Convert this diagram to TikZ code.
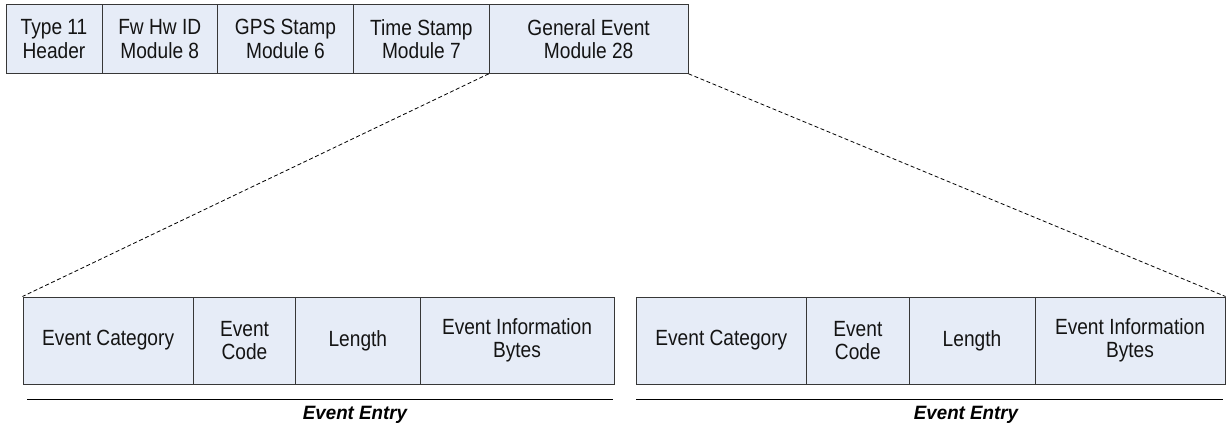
\documentclass[tikz,border=0pt]{standalone}
\usepackage{fontspec}
\setmainfont[FakeStretch=0.87]{Liberation Sans}
\newfontfamily\entryfont[FakeStretch=0.97]{Liberation Sans}
\definecolor{cellfill}{RGB}{230,236,247}
\definecolor{cellline}{RGB}{55,55,55}
\definecolor{txt}{RGB}{20,20,20}
\tikzset{
  cell/.style={draw=cellline, fill=cellfill, line width=1pt, inner sep=0pt,
    align=center, text=txt, font=\fontsize{22}{23.5}\selectfont,
    minimum height=#1},
  topcell/.style={cell=68.6pt},
  botcell/.style={cell=87pt},
  zoomline/.style={draw=black, line width=0.8pt, dash pattern=on 4pt off 2.5pt},
  ruleline/.style={draw=black, line width=1pt},
  entrylabel/.style={anchor=base, inner sep=0pt, text=black,
    font=\entryfont\bfseries\itshape\fontsize{19.3}{21}\selectfont}
}
\begin{document}
\begin{tikzpicture}[x=1pt,y=-1pt]
\useasboundingbox (0,0) rectangle (1226,425);
% top row
\node[topcell, minimum width=96pt]    (t1) at (54,39)     {Type 11\\Header};
\node[topcell, minimum width=115.5pt] (t2) at (159.75,39) {Fw Hw ID\\Module 8};
\node[topcell, minimum width=136pt]   (t3) at (285.5,39)  {GPS Stamp\\Module 6};
\node[topcell, minimum width=135.8pt] (t4) at (421.4,39)  {Time Stamp\\Module 7};
\node[topcell, minimum width=198.7pt] (t5) at (588.65,39) {General Event\\Module 28};
% left entry
\node[botcell, minimum width=170.3pt] (l1) at (108.15,340.5) {Event Category};
\node[botcell, minimum width=102.4pt] (l2) at (244.5,340.5)  {Event\\Code};
\node[botcell, minimum width=124.3pt] (l3) at (357.85,340.5) {Length};
\node[botcell, minimum width=194pt]   (l4) at (517,340.5)    {Event Information\\Bytes};
% right entry
\node[botcell, minimum width=170.7pt] (r1) at (721.35,340.5) {Event Category};
\node[botcell, minimum width=102.3pt] (r2) at (857.85,340.5) {Event\\Code};
\node[botcell, minimum width=126pt]   (r3) at (972,340.5)    {Length};
\node[botcell, minimum width=190pt]   (r4) at (1130,340.5)   {Event Information\\Bytes};
% zoom lines
\draw[zoomline] (t5.south west) -- (l1.north west);
\draw[zoomline] (t5.south east) -- (r4.north east);
% rules and labels
\coordinate (la) at (27,399);
\coordinate (lb) at (613,399);
\coordinate (ra) at (636,399);
\coordinate (rb) at (1223,399);
\draw[ruleline] (la) -- (lb);
\draw[ruleline] (ra) -- (rb);
\node[entrylabel] (le) at (355,419.3) {Event Entry};
\node[entrylabel] (re) at (966,419.3) {Event Entry};
\end{tikzpicture}
\end{document}
